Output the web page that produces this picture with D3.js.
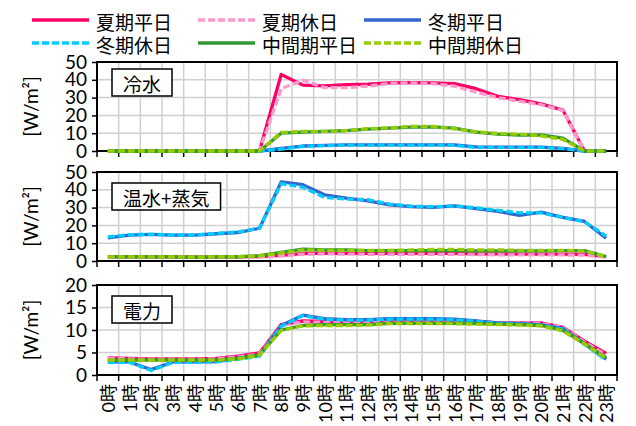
<!DOCTYPE html>
<html>
<head>
<meta charset="utf-8">
<script src="https://cdn.jsdelivr.net/npm/d3@7"></script>
<style>
  body { margin: 0; background: #fff; }
  text { font-family: Lato, "Noto Sans CJK JP", sans-serif; fill: #000; }
</style>
</head>
<body>
<svg width="636" height="426"></svg>
<script>
// hours on the category axis
const hours = d3.range(24).map(h => h + "時");

// series names (legend order)
const seriesNames = ["夏期平日", "夏期休日", "冬期平日", "冬期休日", "中間期平日", "中間期休日"];

// 冷水
const coolSummerWd = [0,0,0,0,0,0,0,0,43,37,36.6,37.3,37.5,38.3,38.4,38.3,37.9,35,30.7,28.8,26.5,23,0,0];
const coolSummerHd = [0,0,0,0,0,0,0,0,35,39.8,35.6,35.6,36.4,37.9,38.3,37.9,36.4,33,30,28,26,22.7,0,0];
const coolWinterWd = [0,0,0,0,0,0,0,0,1.5,2.8,3.2,3.4,3.4,3.4,3.4,3.4,3.4,2.3,2.2,2.2,2.2,1.5,0,0];
const coolWinterHd = [0,0,0,0,0,0,0,0,1.0,2.6,3,3.3,3.3,3.3,3.3,3.3,3.2,2,2,2,2,1.3,0,0];
const coolMidWd = [0,0,0,0,0,0,0,0,10,10.6,11,11.4,12.3,12.9,13.4,13.6,12.9,10.6,9.5,8.9,9.1,7.2,0,0];
const coolMidHd = [0,0,0,0,0,0,0,0,10.5,11,11,11.5,12.5,13,13.8,13.8,12.5,10.8,9.8,9.5,8.5,6.5,0,0];

// 温水+蒸気
const heatSummerWd = [2.3,2.3,2.3,2.3,2.2,2.2,2.3,2.5,3.2,4.2,4.5,4.3,4.3,4.3,4.3,4.3,4.3,4,4,3.9,3.9,3.9,3.8,2.5];
const heatSummerHd = [2.2,2.2,2.2,2.2,2.1,2.1,2.2,2.3,2.8,3.8,4,3.9,3.8,3.8,3.8,3.8,3.8,3.6,3.5,3.4,3.4,3.4,3.3,2.2];
const heatWinterWd = [13,14.5,15,14.5,14.5,15.3,16,18.4,44.4,42.9,37.2,35.3,33.8,31.6,30.5,30.1,31,29.4,27.9,25.6,27.5,24.5,22.2,12.8];
const heatWinterHd = [13.5,14.8,15,14.6,14.6,15.5,16.3,18.5,43.4,41.4,35.7,34.8,34.5,32,30.8,30.5,31,29.8,28.5,27,27,24.5,22,14];
const heatMidWd = [2.3,2.3,2.3,2.3,2.1,2.3,2.4,3.0,4.9,6.6,6.2,6.2,5.8,5.8,5.8,5.8,5.8,5.7,5.7,5.7,5.7,5.8,5.8,2.5];
const heatMidHd = [2.3,2.3,2.3,2.3,2.2,2.3,2.4,2.9,4.5,6.3,6,6,6,6,6.2,6.5,6.5,6.2,6.3,6,6,6,5.7,2.5];

// 電力
const elecSummerWd = [3.8,3.7,3.6,3.6,3.6,3.7,4.2,4.9,11.2,12,11.9,11.8,11.8,11.8,11.8,11.8,11.8,11.9,11.6,11.6,11.6,10.6,7.5,4.8];
const elecSummerHd = [3.7,3.6,3.5,3.5,3.5,3.6,4.0,4.7,11.0,11.8,11.7,11.6,11.6,11.7,11.7,11.7,11.7,11.8,11.5,11.5,11.5,10.5,7.3,4.5];
const elecWinterWd = [2.9,2.9,1.2,2.9,2.9,3.0,3.7,4.3,11,13.3,12.5,12.3,12.3,12.5,12.5,12.5,12.4,12,11.6,11.4,11.2,10.3,6.9,3.5];
const elecWinterHd = [2.8,2.8,1.0,2.8,2.8,2.9,3.5,4.2,10.8,13.2,12.4,12.2,12.2,12.4,12.4,12.4,12.3,11.9,11.5,11.3,11.1,10.2,6.8,3.3];
const elecMidWd = [3.3,3.3,3.3,3.3,3.3,3.3,3.7,4.5,10,11,11.2,11.2,11.2,11.5,11.5,11.5,11.5,11.4,11.3,11.2,11,9.9,7,3.8];
const elecMidHd = [3.3,3.3,3.3,3.3,3.3,3.3,3.6,4.4,9.9,10.9,11,11,11.1,11.4,11.4,11.4,11.4,11.3,11.2,11.1,10.9,9.8,6.9,3.7];

// panel titles and y ticks
const panelTitles = ["冷水", "温水+蒸気", "電力"];
const coolTicks = [0, 10, 20, 30, 40, 50];
const heatTicks = [0, 10, 20, 30, 40, 50];
const elecTicks = [0, 5, 10, 15, 20];

// line styles per series
const styles = [
  {color: "#ff0066", dash: null},
  {color: "#ff99cc", dash: "7,3"},
  {color: "#3366cc", dash: null},
  {color: "#00ccff", dash: "7,3"},
  {color: "#339933", dash: null},
  {color: "#99cc00", dash: "7,3"}
];

const panels = [
  {title: panelTitles[0], ticks: coolTicks, series: [coolSummerWd, coolSummerHd, coolWinterWd, coolWinterHd, coolMidWd, coolMidHd], top: 62, bottom: 151, boxY: 69},
  {title: panelTitles[1], ticks: heatTicks, series: [heatSummerWd, heatSummerHd, heatWinterWd, heatWinterHd, heatMidWd, heatMidHd], top: 172, bottom: 261, boxY: 183},
  {title: panelTitles[2], ticks: elecTicks, series: [elecSummerWd, elecSummerHd, elecWinterWd, elecWinterHd, elecMidWd, elecMidHd], top: 285, bottom: 375, boxY: 296}
];

const svg = d3.select("svg");
const left = 97, right = 617;

const x = d3.scaleBand().domain(hours).range([left, right]);
const xc = d => x(d) + x.bandwidth() / 2;

panels.forEach((p, pi) => {
  const y = d3.scaleLinear()
    .domain([0, d3.max(p.ticks)])
    .range([p.bottom, p.top]);

  const g = svg.append("g");

  // horizontal grid
  g.selectAll(".hg").data(p.ticks).enter().append("line")
    .attr("x1", left).attr("x2", right)
    .attr("y1", d => y(d)).attr("y2", d => y(d))
    .attr("stroke", "#d0d0d0").attr("stroke-width", 1.5);

  // vertical grid at category boundaries
  const bounds = hours.map(h => x(h)).concat([right]);
  g.selectAll(".vg").data(bounds).enter().append("line")
    .attr("x1", d => d).attr("x2", d => d)
    .attr("y1", p.top).attr("y2", p.bottom)
    .attr("stroke", "#d0d0d0").attr("stroke-width", 1.5);

  // plot border
  g.append("rect")
    .attr("x", left).attr("y", p.top)
    .attr("width", right - left).attr("height", p.bottom - p.top)
    .attr("fill", "none").attr("stroke", "#000").attr("stroke-width", 2);

  // y axis
  const yAxis = d3.axisLeft(y).tickValues(p.ticks).tickSize(5).tickPadding(5);
  const ya = g.append("g").attr("transform", `translate(${left},0)`).call(yAxis);
  ya.select(".domain").remove();
  ya.selectAll(".tick line").attr("stroke", "#000").attr("stroke-width", 1.5);
  ya.selectAll(".tick text").style("font-size", "19px");

  // x tick marks
  g.selectAll(".xt").data(bounds).enter().append("line")
    .attr("x1", d => d).attr("x2", d => d)
    .attr("y1", p.bottom).attr("y2", p.bottom + 6)
    .attr("stroke", "#000").attr("stroke-width", 1.5);

  // series lines
  const line = d3.line()
    .x((d, i) => xc(hours[i]))
    .y(d => y(d));
  p.series.forEach((s, si) => {
    g.append("path")
      .datum(s)
      .attr("d", line)
      .attr("fill", "none")
      .attr("stroke", styles[si].color)
      .attr("stroke-width", 3.3)
      .attr("stroke-dasharray", styles[si].dash)
      .attr("stroke-linejoin", "round");
  });

  // panel label box
  const box = g.append("rect");
  const label = g.append("text")
    .style("font-size", "19px")
    .style("font-family", "'Noto Sans CJK JP', sans-serif")
    .text(p.title);
  const bw = label.node().getBBox().width + 22, bh = 27;
  box.attr("x", 112).attr("y", p.boxY)
    .attr("width", bw).attr("height", bh)
    .attr("fill", "#fff").attr("stroke", "#000").attr("stroke-width", 1.5);
  label.attr("x", 112 + bw / 2).attr("y", p.boxY + bh / 2 + 1)
    .attr("text-anchor", "middle").attr("dominant-baseline", "central");

  // y axis title
  g.append("text")
    .attr("transform", `translate(30,${(p.top + p.bottom) / 2}) rotate(-90)`)
    .attr("text-anchor", "middle")
    .attr("dominant-baseline", "central")
    .style("font-size", "19px")
    .text("[W/m²]");
});

// x tick labels under the last panel
const last = panels[2];
svg.append("g").selectAll("text").data(hours).enter().append("text")
  .attr("transform", d => `translate(${xc(d)},${last.bottom + 9}) rotate(-90)`)
  .attr("text-anchor", "end")
  .attr("dominant-baseline", "central")
  .style("font-size", "18px")
  .text(d => d);

// legend
const legendPos = [[32, 20], [198, 20], [364, 20], [32, 43], [198, 43], [364, 43]];
seriesNames.forEach((name, i) => {
  const [lx, ly] = legendPos[i];
  svg.append("line")
    .attr("x1", lx).attr("x2", lx + 57)
    .attr("y1", ly).attr("y2", ly)
    .attr("stroke", styles[i].color)
    .attr("stroke-width", 3.3)
    .attr("stroke-dasharray", styles[i].dash);
  svg.append("text")
    .attr("x", lx + 64).attr("y", ly + 1)
    .attr("dominant-baseline", "central")
    .style("font-size", "19px")
    .style("font-family", "'Noto Sans CJK JP', sans-serif")
    .text(name);
});
</script>
</body>
</html>
